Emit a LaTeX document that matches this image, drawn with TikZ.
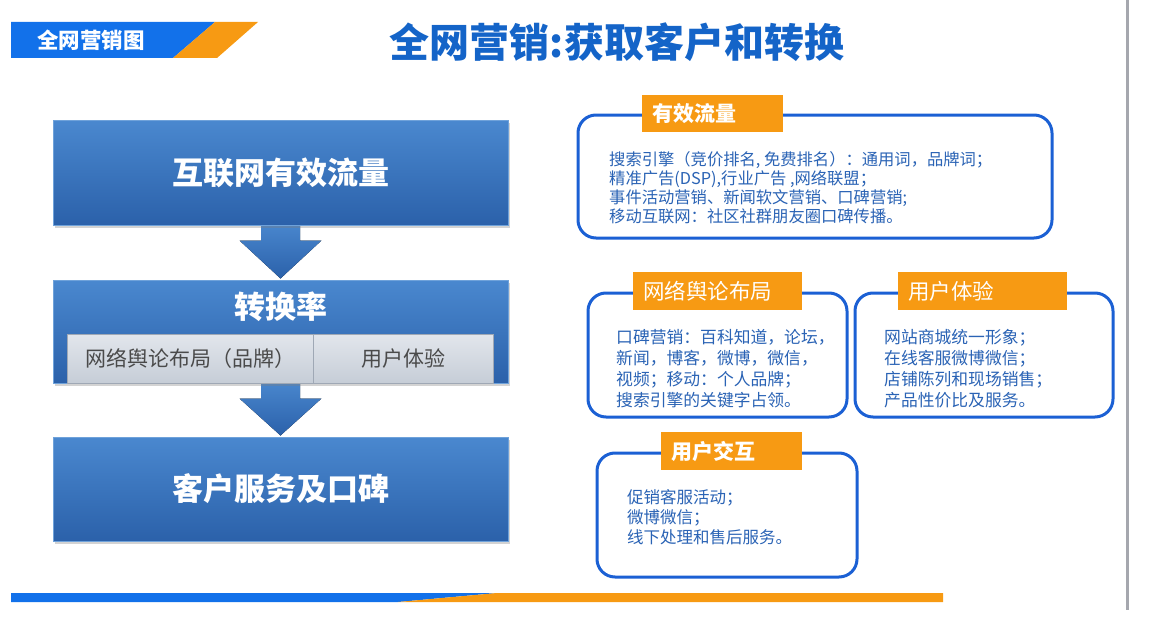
\documentclass[tikz,border=0pt]{standalone}
\usepackage{fontspec}
\setmainfont{Noto Sans CJK SC}
\usetikzlibrary{shadows,backgrounds}
\definecolor{bannerblue}{HTML}{1271EA}
\definecolor{bannerorange}{HTML}{F79A13}
\definecolor{titleblue}{HTML}{1464C8}
\definecolor{lboxtop}{HTML}{4A88CF}
\definecolor{lboxbot}{HTML}{2B61AA}
\definecolor{lboxedge}{HTML}{6FA2DA}
\definecolor{sbtop}{HTML}{E2E6EC}
\definecolor{sbbot}{HTML}{C6CDD7}
\definecolor{sbedge}{HTML}{9FA8B5}
\definecolor{sbtext}{HTML}{4A4A4A}
\definecolor{rblue}{HTML}{1B60D4}
\definecolor{rtextc}{HTML}{2A63B5}
\definecolor{greyline}{HTML}{A5A7AE}
\begin{document}
\begin{tikzpicture}[x=1pt,y=-1pt,
  lbox/.style={rectangle, draw=lboxedge, line width=1pt, top color=lboxtop, bottom color=lboxbot,
    minimum width=455pt, text=white, font=\bfseries\fontsize{31}{34}\selectfont,
    drop shadow={opacity=0.35, shadow xshift=1.5pt, shadow yshift=-2.5pt}},
  sbar/.style={rectangle, draw=sbedge, line width=0.6pt, top color=sbtop, bottom color=sbbot,
    minimum height=49pt, text=sbtext, font=\fontsize{21}{24}\selectfont},
  arrowfill/.style={top color=lboxtop, bottom color=lboxbot},
  rbox/.style={draw=rblue, line width=3pt, rounded corners=18pt, fill=white},
  olab/.style={fill=bannerorange, text=white, inner xsep=10pt, inner ysep=0pt, align=left,
    font=\fontsize{21.5}{24}\selectfont},
  rtext/.style={text=rtextc, align=left, inner sep=0pt, anchor=north west},
]
\useasboundingbox (0,0) rectangle (1152,626);

% top banner
\fill[bannerblue] (11,22) -- (215,22) -- (173,58) -- (11,58) -- cycle;
\fill[bannerorange] (215,22) -- (258,22) -- (217,58) -- (173,58) -- cycle;
\node[text=white, font=\bfseries\fontsize{21.5}{24}\selectfont] (banner) at (91,40) {全网营销图};

% title
\node[text=titleblue, font=\bfseries\fontsize{40}{44}\selectfont] (title) at (617,42) {全网营销:获取客户和转换};

% grey right line
\draw[greyline, line width=3pt] (1127,0) -- (1127,610);

% bottom bar
\fill[bannerblue] (11,593) -- (497,593) -- (398,602) -- (11,602) -- cycle;
\fill[bannerorange] (497,593) -- (943,593) -- (943,602) -- (398,602) -- cycle;

% left flow
\node[lbox, minimum height=105pt] (b1) at (280.5,172.5) {互联网有效流量};
\node[lbox, minimum height=103pt, text depth=60pt] (b2) at (280.5,331.5) {};
\node[text=white, font=\bfseries\fontsize{31}{34}\selectfont] (b2t) at (280.5,307) {转换率};
\node[sbar, minimum width=246pt] (sb1) at (190,358.5) {网络舆论布局（品牌）};
\node[sbar, minimum width=180pt] (sb2) at (403,358.5) {用户体验};
\node[lbox, minimum height=104pt] (b3) at (280.5,489) {客户服务及口碑};

\begin{scope}[on background layer]
\fill[arrowfill] ([xshift=-19.5pt,yshift=4pt]b1.south) -- ([xshift=19.5pt,yshift=4pt]b1.south)
  -- ([xshift=19.5pt,yshift=-15pt]b1.south) -- ([xshift=41pt,yshift=-15pt]b1.south)
  -- ([yshift=1pt]b2.north) -- ([xshift=-41pt,yshift=-15pt]b1.south)
  -- ([xshift=-19.5pt,yshift=-15pt]b1.south) -- cycle;
\fill[arrowfill] ([xshift=-19.5pt,yshift=4pt]b2.south) -- ([xshift=19.5pt,yshift=4pt]b2.south)
  -- ([xshift=19.5pt,yshift=-15pt]b2.south) -- ([xshift=41pt,yshift=-15pt]b2.south)
  -- ([yshift=1pt]b3.north) -- ([xshift=-41pt,yshift=-15pt]b2.south)
  -- ([xshift=-19.5pt,yshift=-15pt]b2.south) -- cycle;
\end{scope}

% right boxes
\draw[rbox] (578,115) rectangle (1052,238);
\node[olab, text width=121pt, minimum height=37pt, font=\bfseries\fontsize{21}{24}\selectfont] (la) at (712.5,113.5) {有效流量};
\node[rtext, font=\fontsize{16.3}{19}\selectfont] (ta) at (609,151) {搜索引擎（竞价排名, 免费排名）：通用词，品牌词；\\精准广告(DSP),行业广告 ,网络联盟；\\事件活动营销、新闻软文营销、口碑营销;\\移动互联网：社区社群朋友圈口碑传播。};

\draw[rbox] (588,293) rectangle (847,417);
\node[olab, text width=149pt, minimum height=38pt] (lb) at (717.5,291) {网络舆论布局};
\node[rtext, font=\fontsize{16.8}{21}\selectfont] (tb) at (616,329) {口碑营销：百科知道，论坛，\\新闻，博客，微博，微信，\\视频；移动：个人品牌；\\搜索引擎的关键字占领。};

\draw[rbox] (855,293) rectangle (1113,417);
\node[olab, text width=149pt, minimum height=38pt] (lc) at (982.5,291) {用户体验};
\node[rtext, font=\fontsize{16.8}{21}\selectfont] (tc) at (884,329) {网站商城统一形象；\\在线客服微博微信；\\店铺陈列和现场销售；\\产品性价比及服务。};

\draw[rbox] (597,453) rectangle (857,577);
\node[olab, text width=121pt, minimum height=38pt, font=\bfseries\fontsize{21}{24}\selectfont] (ld) at (731.5,451) {用户交互};
\node[rtext, font=\fontsize{16.5}{20}\selectfont] (td) at (627,489) {促销客服活动；\\微博微信；\\线下处理和售后服务。};
\end{tikzpicture}
\end{document}
